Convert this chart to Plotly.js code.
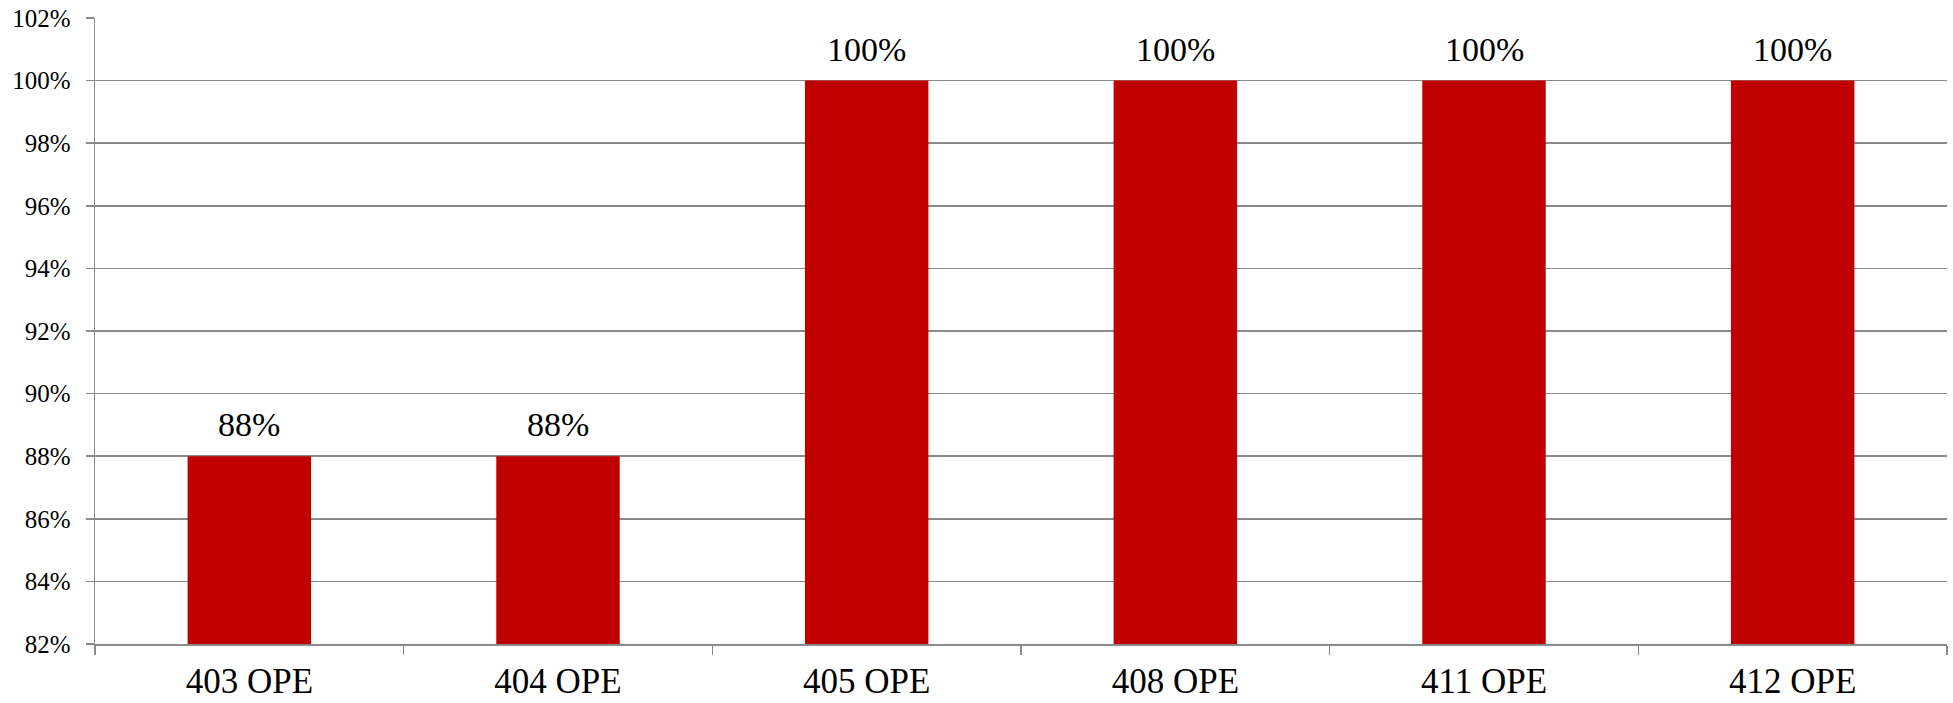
<!DOCTYPE html>
<html>
<head>
<meta charset="utf-8">
<script src="https://cdn.plot.ly/plotly-3.0.1.min.js"></script>
<style>html,body{margin:0;padding:0;background:#fff;}#chart{width:1953px;height:703px;}</style>
</head>
<body>
<div id="chart"></div>
<script>
const categories = ["403 OPE", "404 OPE", "405 OPE", "408 OPE", "411 OPE", "412 OPE"];
const values = [0.88, 0.88, 1.00, 1.00, 1.00, 1.00];
const yTickValues = [0.82, 0.84, 0.86, 0.88, 0.90, 0.92, 0.94, 0.96, 0.98, 1.00, 1.02];

const grey = "#8a8a8a";
const serif = "Liberation Serif";

const trace = {
  type: "bar",
  x: categories,
  y: values,
  marker: {color: "#C00000"},
  hoverinfo: "none"
};

const labels = categories.map((c, i) => ({
  x: c,
  y: values[i],
  xref: "x",
  yref: "y",
  text: Math.round(values[i] * 100) + "%",
  showarrow: false,
  yanchor: "bottom",
  yshift: 11,
  font: {family: serif, size: 34, color: "#000"}
}));

const layout = {
  width: 1953,
  height: 703,
  margin: {l: 95, r: 6, t: 18, b: 59, pad: 0},
  paper_bgcolor: "#fff",
  plot_bgcolor: "#fff",
  showlegend: false,
  bargap: 0.6,
  font: {family: serif, color: "#000"},
  annotations: labels,
  xaxis: {
    type: "category",
    showline: true,
    linecolor: grey,
    linewidth: 1.5,
    ticks: "outside",
    tickson: "boundaries",
    ticklen: 9,
    tickcolor: grey,
    tickwidth: 1.5,
    showgrid: false,
    tickfont: {family: serif, size: 35, color: "#000"},
    ticklabelstandoff: 5,
    fixedrange: true
  },
  yaxis: {
    range: [0.82, 1.02],
    tickvals: yTickValues,
    tickformat: ".0%",
    showline: true,
    linecolor: grey,
    linewidth: 1.5,
    ticks: "outside",
    ticklen: 8,
    tickcolor: grey,
    tickwidth: 1.5,
    showgrid: true,
    gridcolor: grey,
    gridwidth: 1.5,
    zeroline: false,
    tickfont: {family: serif, size: 25, color: "#000"},
    ticklabelstandoff: 10,
    fixedrange: true
  }
};

Plotly.newPlot("chart", [trace], layout, {displayModeBar: false, staticPlot: true});
</script>
</body>
</html>
